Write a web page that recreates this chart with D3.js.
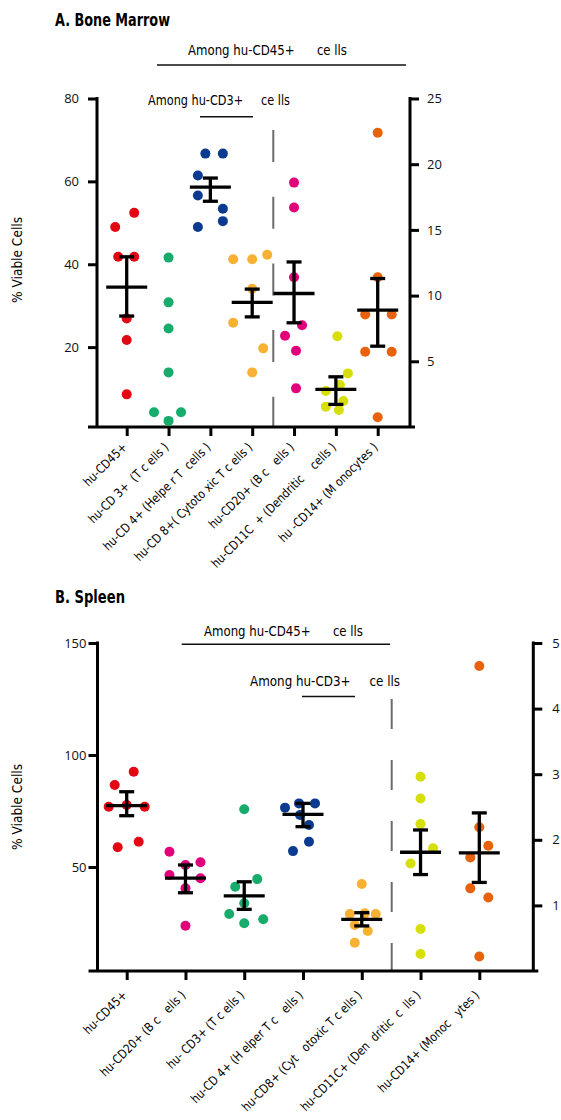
<!DOCTYPE html>
<html>
<head>
<meta charset="utf-8">
<script src="https://cdn.jsdelivr.net/npm/d3@7"></script>
<style>
  body { margin: 0; background: #fff; }
  text { font-family: "DejaVu Sans", sans-serif; }
  .tick text { font-family: "Open Sans", "Noto Sans", sans-serif; }
</style>
</head>
<body>
<svg id="chart" width="561" height="1120"></svg>
<script>
// colours per cell type
const cellColors = {
  cd45: "#e30613",
  cd3: "#17ab6c",
  cd4: "#0b3a8e",
  cd8: "#f8b133",
  cd20: "#e2007a",
  cd11c: "#d7df0a",
  cd14: "#e8620c",
};

// ---- A. Bone marrow ----
const boneKeys = ["cd45", "cd3", "cd4", "cd8", "cd20", "cd11c", "cd14"];
const boneLabels = [
  "hu-CD45+",
  "hu-CD 3+  (T c ells )",
  "hu-CD 4+ (Helpe r T  cells )",
  "hu-CD 8+( Cytoto xic T c ells )",
  "hu-CD20+ (B c   ells )",
  "hu-CD11C  + (Dendritic    cells )",
  "hu -CD14+ (M onocytes )",
];
const boneAxis = ["left", "left", "left", "left", "right", "right", "right"];
const boneValues = [
  [49.0, 52.4, 41.8, 41.8, 26.9, 21.7, 8.6],
  [41.6, 30.8, 24.5, 13.9, 4.3, 4.3, 2.2],
  [66.7, 66.7, 61.4, 56.6, 49.0, 53.4, 50.4],
  [41.2, 41.2, 42.3, 34.1, 25.9, 19.7, 13.9],
  [18.6, 16.7, 11.4, 7.75, 6.94, 5.8, 2.94],
  [6.9, 4.08, 2.74, 3.19, 1.98, 1.55, 1.29],
  [22.4, 11.4, 8.56, 8.56, 5.72, 5.72, 0.74],
];
// horizontal spread of the dots, in dot diameters
const boneJitter = [
  [-1.15, 0.75, -0.85, 0.75, 0, 0, 0],
  [0, 0, 0, 0, -1.45, 1.25, 0],
  [-0.5, 1.25, -1.25, -1.25, -1.25, 1.25, 1.25],
  [-1.9, 0, 1.5, 0, -1.9, 1.1, 0],
  [0, 0, 0, 0.8, -0.9, 0.2, 0.2],
  [0.15, 1.2, -1.0, 0.4, 0.75, -1.0, 0.3],
  [0, 0, -1.25, 1.4, -1.25, 1.4, 0],
];
const boneMeans = [34.5, null, 58.6, 30.8, 10.16, 2.86, 8.89];
const boneErrHigh = [41.8, null, 60.8, 34.0, 12.56, 3.82, 11.3];
const boneErrLow = [27.5, null, 55.2, 27.3, 7.93, 1.72, 6.15];
const boneLeftTicks = [20, 40, 60, 80];
const boneRightTicks = [5, 10, 15, 20, 25];

// ---- B. Spleen ----
const spleenKeys = ["cd45", "cd20", "cd3", "cd4", "cd8", "cd11c", "cd14"];
const spleenLabels = [
  "hu-CD45+",
  "hu-CD20+ (B c   ells )",
  "hu- CD3+ (T c ells )",
  "hu-CD 4+ (H elper T c   ells )",
  "hu-CD8+ (Cyt   otoxic T c ells )",
  "hu-CD11C+ (Den  dritic  c  lls )",
  "hu-CD14+ (Monoc   ytes )",
];
const spleenAxis = ["left", "left", "left", "left", "left", "right", "right"];
const spleenValues = [
  [92.5, 86.6, 76.9, 76.9, 77.7, 61.3, 58.8],
  [56.8, 50.9, 52.1, 46.4, 45.0, 40.5, 23.8],
  [75.8, 44.6, 41.2, 33.8, 29.0, 26.7, 24.9],
  [76.5, 78.4, 78.4, 73.2, 68.75, 61.3, 57.1],
  [42.4, 29.0, 29.3, 29.0, 24.1, 21.4, 16.2],
  [2.96, 2.63, 2.24, 1.87, 1.64, 0.64, 0.26],
  [4.65, 2.19, 1.91, 1.73, 1.26, 1.12, 0.22],
];
const spleenJitter = [
  [0.7, -1.2, -1.8, 1.8, 0, 1.2, -0.9],
  [-1.6, 0, 1.5, -1.6, 1.5, 0, 0],
  [0, 1.3, -0.9, 0, -1.5, 1.9, 0],
  [-1.8, -0.4, 1.2, -0.3, 0.6, 0.6, -1.0],
  [0, -1.2, 0.3, 1.4, -0.7, 0.6, -0.7],
  [0, 0, 0, 1.25, -1.0, 0, 0],
  [0, 0, 0.9, -0.9, -0.9, 0.9, 0],
];
const spleenMeans = [77.4, 45.0, 37.1, 73.5, 26.65, 1.81, 1.80];
const spleenErrHigh = [83.6, 50.9, 43.4, 78.4, 29.6, 2.15, 2.41];
const spleenErrLow = [72.9, 38.5, 31.1, 68.0, 23.7, 1.47, 1.35];
const spleenLeftTicks = [50, 100, 150];
const spleenRightTicks = [1, 2, 3, 4, 5];

const svg = d3.select("#chart");
const dotR = 5;
const axisStroke = 3;

function drawPanel(p) {
  const g = svg.append("g");
  const yL = d3.scaleLinear().domain([0, p.leftMax]).range([p.zeroL, p.top]);
  const yR = d3.scaleLinear().domain([0, p.rightMax]).range([p.zeroR, p.top]);
  const x = d3.scalePoint().domain(d3.range(p.keys.length)).range([p.firstX, p.lastX]);

  // title (squeezed to the condensed width of the original)
  g.append("text")
    .attr("x", 55).attr("y", p.titleY)
    .attr("font-size", 17).attr("font-weight", 700)
    .attr("textLength", p.titleWidth).attr("lengthAdjust", "spacingAndGlyphs")
    .text(p.title);

  // group brackets
  p.brackets.forEach((b) => {
    g.append("text")
      .attr("x", b.tx).attr("y", b.ty)
      .attr("font-size", 13.5)
      .attr("textLength", b.tw).attr("lengthAdjust", "spacingAndGlyphs")
      .style("white-space", "pre")
      .text(b.text);
    g.append("line")
      .attr("x1", b.x1).attr("x2", b.x2).attr("y1", b.ly).attr("y2", b.ly)
      .attr("stroke", "#111").attr("stroke-width", 1.6);
  });

  // dashed separator
  g.append("line")
    .attr("x1", p.dashX).attr("x2", p.dashX)
    .attr("y1", p.dashTop).attr("y2", p.bottom)
    .attr("stroke", "#6b6b6b").attr("stroke-width", 2)
    .attr("stroke-dasharray", p.dash);

  // left axis
  const left = g.append("g")
    .attr("transform", `translate(${p.leftX},0)`)
    .call(d3.axisLeft(yL).tickValues(p.leftTicks).tickSize(9)
      .tickPadding(p.leftPad).tickFormat(d3.format("d")));
  left.select(".domain").remove();
  left.selectAll(".tick line").attr("stroke", "#000").attr("stroke-width", axisStroke);
  left.selectAll(".tick text").attr("font-size", 13).attr("fill", "#111");
  left.append("line")
    .attr("y1", p.top - 1.5).attr("y2", p.bottom)
    .attr("stroke", "#000").attr("stroke-width", axisStroke);

  // right axis
  const right = g.append("g")
    .attr("transform", `translate(${p.rightX},0)`)
    .call(d3.axisRight(yR).tickValues(p.rightTicks).tickSize(9)
      .tickPadding(p.rightPad).tickFormat(d3.format("d")));
  right.select(".domain").remove();
  right.selectAll(".tick line").attr("stroke", "#000").attr("stroke-width", axisStroke);
  right.selectAll(".tick text").attr("font-size", 13).attr("fill", "#111");
  right.append("line")
    .attr("y1", p.top - 1.5).attr("y2", p.bottom)
    .attr("stroke", "#000").attr("stroke-width", axisStroke);

  // bottom axis
  const bottom = g.append("g")
    .attr("transform", `translate(0,${p.bottom})`)
    .call(d3.axisBottom(x).tickSize(9).tickFormat(""));
  bottom.select(".domain").remove();
  bottom.selectAll(".tick line").attr("stroke", "#000").attr("stroke-width", axisStroke);
  bottom.append("line")
    .attr("x1", p.leftX - 9).attr("x2", p.rightX + 5)
    .attr("stroke", "#000").attr("stroke-width", axisStroke);

  // category labels
  g.append("g").selectAll("text")
    .data(p.labels)
    .join("text")
    .attr("transform", (d, i) =>
      `translate(${x(i) + 1},${p.bottom + p.labelDy}) rotate(-45) scale(0.85,1)`)
    .attr("text-anchor", "end")
    .attr("font-size", 12.5)
    .style("white-space", "pre")
    .text((d) => d);

  // y title
  g.append("text")
    .attr("transform", `translate(22,${p.yTitleY}) rotate(-90)`)
    .attr("text-anchor", "middle")
    .attr("font-size", 13.5)
    .attr("textLength", 86).attr("lengthAdjust", "spacingAndGlyphs")
    .text("% Viable Cells");

  // dots
  p.values.forEach((vals, i) => {
    const y = p.axis[i] === "left" ? yL : yR;
    g.append("g").selectAll("circle")
      .data(vals)
      .join("circle")
      .attr("cx", (d, j) => x(i) + p.jitter[i][j] * dotR * 2)
      .attr("cy", (d) => y(d))
      .attr("r", dotR)
      .attr("fill", cellColors[p.keys[i]]);
  });

  // mean +/- SEM
  p.means.forEach((m, i) => {
    if (m == null) return;
    const y = p.axis[i] === "left" ? yL : yR;
    const cx = x(i);
    const bar = g.append("g").attr("stroke", "#000").attr("stroke-width", 3.3);
    bar.append("line").attr("x1", cx).attr("x2", cx)
      .attr("y1", y(p.errHigh[i])).attr("y2", y(p.errLow[i]));
    [p.errHigh[i], p.errLow[i]].forEach((v) => {
      bar.append("line").attr("x1", cx - 7.5).attr("x2", cx + 7.5)
        .attr("y1", y(v)).attr("y2", y(v));
    });
    bar.append("line").attr("x1", cx - 20.5).attr("x2", cx + 20.5)
      .attr("y1", y(m)).attr("y2", y(m));
  });
}

drawPanel({
  title: "A. Bone Marrow", titleY: 26, titleWidth: 115,
  keys: boneKeys, labels: boneLabels, axis: boneAxis,
  values: boneValues, jitter: boneJitter,
  means: boneMeans, errHigh: boneErrHigh, errLow: boneErrLow,
  leftTicks: boneLeftTicks, rightTicks: boneRightTicks,
  leftMax: 80, rightMax: 25, leftPad: 9, rightPad: 8,
  top: 98.5, zeroL: 430, zeroR: 427, bottom: 427,
  leftX: 97, rightX: 410, firstX: 126.7, lastX: 377.7,
  dashX: 273.3, dashTop: 130, dash: "32,34.7",
  labelDy: 21, yTitleY: 260,
  brackets: [
    { text: "Among hu-CD45+      ce lls", tx: 188, ty: 55, tw: 159, x1: 157, x2: 406, ly: 65 },
    { text: "Among hu-CD3+     ce lls", tx: 148, ty: 105, tw: 142, x1: 200, x2: 253, ly: 116.7 },
  ],
});

drawPanel({
  title: "B. Spleen", titleY: 603, titleWidth: 70,
  keys: spleenKeys, labels: spleenLabels, axis: spleenAxis,
  values: spleenValues, jitter: spleenJitter,
  means: spleenMeans, errHigh: spleenErrHigh, errLow: spleenErrLow,
  leftTicks: spleenLeftTicks, rightTicks: spleenRightTicks,
  leftMax: 150, rightMax: 5, leftPad: 2, rightPad: 10,
  top: 643, zeroL: 979, zeroR: 971, bottom: 971,
  leftX: 97.5, rightX: 533.3, firstX: 126.7, lastX: 479.3,
  dashX: 391.7, dashTop: 699, dash: "30,31",
  labelDy: 25, yTitleY: 807,
  brackets: [
    { text: "Among hu-CD45+      ce lls", tx: 204, ty: 636, tw: 159, x1: 181.7, x2: 390, ly: 644.3 },
    { text: "Among hu-CD3+     ce lls", tx: 250, ty: 686, tw: 150, x1: 302, x2: 355, ly: 696.5 },
  ],
});
</script>
</body>
</html>
